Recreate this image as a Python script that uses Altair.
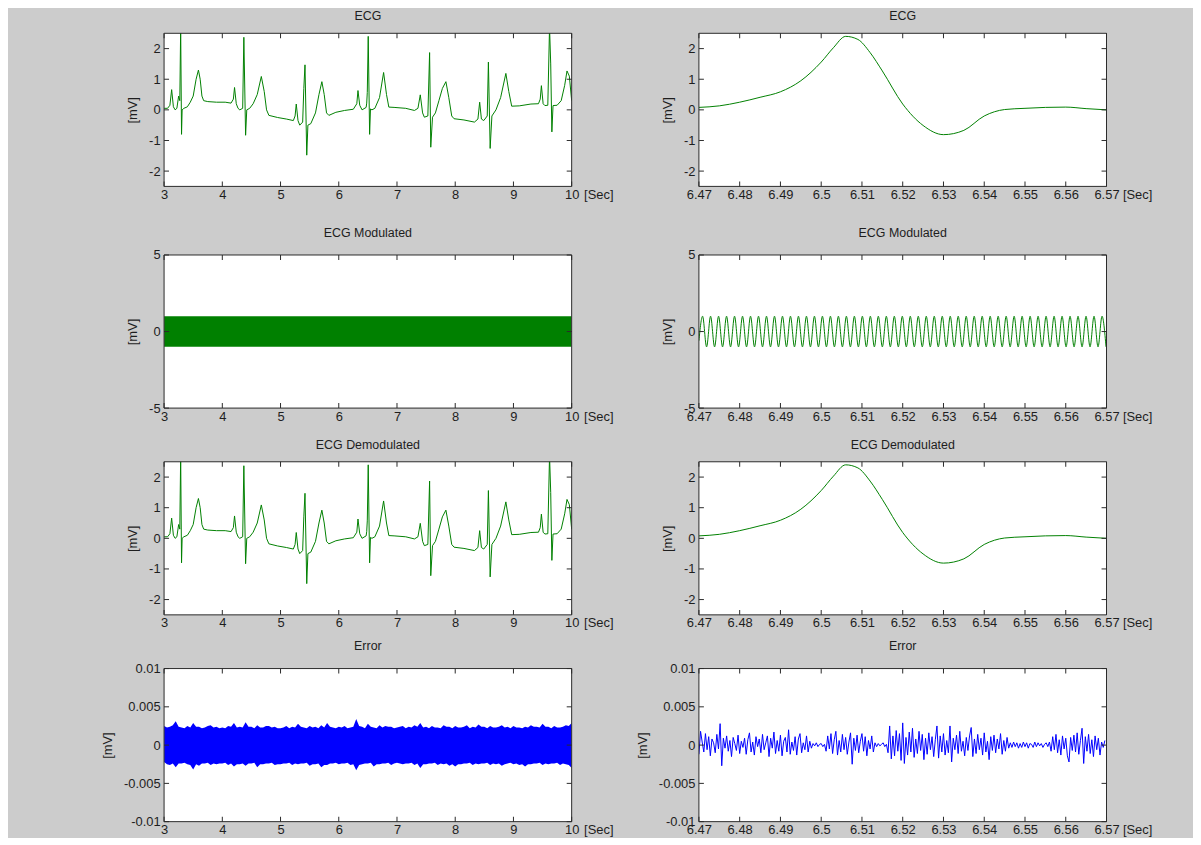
import altair as alt
import pandas as pd

FONT = "Liberation Sans, Arial, sans-serif"
TXT = "#1e1e1e"
BG = "#cccccc"
GREEN = "#008000"
BLUE = "#0000ff"
FRAME = "#2a2a2a"

# ---------------- axes ----------------
X_LEFT_DOMAIN = [3, 10]
X_LEFT_TICKS = [3, 4, 5, 6, 7, 8, 9, 10]
X_RIGHT_DOMAIN = [6.47, 6.57]
X_RIGHT_TICKS = [6.47, 6.48, 6.49, 6.5, 6.51, 6.52, 6.53, 6.54, 6.55, 6.56, 6.57]
Y_ECG_DOMAIN = [-2.5, 2.5]
Y_ECG_TICKS = [-2, -1, 0, 1, 2]
Y_MOD_DOMAIN = [-5, 5]
Y_MOD_TICKS = [-5, 0, 5]
Y_ERR_DOMAIN = [-0.01, 0.01]
Y_ERR_TICKS = [-0.01, -0.005, 0, 0.005, 0.01]

TITLES = ["ECG", "ECG", "ECG Modulated", "ECG Modulated",
          "ECG Demodulated", "ECG Demodulated", "Error", "Error"]

# ---------------- ECG, 3..10 s (mV) ----------------
ECG_L_T = [3.00, 3.06, 3.10, 3.13, 3.16, 3.19, 3.22, 3.25, 3.27, 3.285, 3.30, 3.31, 3.34,
           3.40, 3.45, 3.50, 3.55, 3.59, 3.62, 3.65, 3.68, 3.75, 3.90, 4.05, 4.15, 4.19,
           4.21, 4.24, 4.27, 4.30, 4.35, 4.37, 4.40, 4.42, 4.47, 4.53, 4.60, 4.67, 4.72,
           4.76, 4.80, 4.95, 5.10, 5.22, 5.25, 5.27, 5.30, 5.33, 5.38, 5.40, 5.42, 5.45,
           5.47, 5.52, 5.60, 5.66, 5.71, 5.75, 5.79, 5.83, 5.95, 6.10, 6.25, 6.31, 6.33,
           6.36, 6.40, 6.47, 6.48, 6.49, 6.506, 6.53, 6.545, 6.57, 6.62, 6.70, 6.77, 6.82,
           6.86, 6.95, 7.15, 7.30, 7.36, 7.40, 7.44, 7.47, 7.53, 7.56, 7.58, 7.61, 7.66,
           7.72, 7.78, 7.84, 7.89, 7.94, 7.98, 8.15, 8.33, 8.39, 8.42, 8.45, 8.49, 8.55,
           8.57, 8.60, 8.63, 8.70, 8.78, 8.87, 8.92, 8.97, 9.10, 9.30, 9.43, 9.46, 9.48,
           9.51, 9.54, 9.59, 9.62, 9.64, 9.66, 9.68, 9.75, 9.82, 9.88, 9.92, 9.96, 10.0]
ECG_L_V = [0.05, 0.05, 0.15, 0.66, 0.10, 0.00, 0.05, 0.45, 0.30, 2.70, -0.80, 0.00, 0.05,
           0.10, 0.25, 0.45, 1.00, 1.30, 1.00, 0.45, 0.30, 0.27, 0.25, 0.25, 0.22, 0.35,
           0.73, 0.20, 0.05, 0.00, 0.05, 2.37, -0.83, 0.00, 0.05, 0.20, 0.50, 1.09, 0.60,
           0.00, -0.18, -0.25, -0.30, -0.35, -0.20, 0.19, -0.35, -0.50, -0.40, 0.70, 1.47, -1.48,
           -0.50, -0.45, -0.10, 0.50, 0.92, 0.50, -0.10, -0.18, -0.08, -0.02, 0.02, 0.20, 0.63,
           0.15, 0.00, 0.08, 0.22, 0.57, 2.40, -0.80, 0.03, 0.00, 0.05, 0.40, 1.22, 0.50,
           0.09, 0.08, 0.05, -0.02, 0.05, 0.49, -0.10, -0.24, -0.20, 1.87, -1.22, -0.24, -0.10,
           0.30, 0.70, 0.92, 0.40, -0.20, -0.29, -0.33, -0.40, -0.30, 0.25, -0.30, -0.35, -0.20,
           1.56, -1.26, -0.20, 0.00, 0.40, 1.19, 0.60, 0.12, 0.13, 0.19, 0.20, 0.35, 0.79,
           0.20, 0.14, 0.15, 2.70, 1.50, -0.72, 0.14, 0.15, 0.30, 0.80, 1.27, 1.10, 0.30]

# ---------------- ECG, 6.47..6.57 s (mV) ----------------
ECG_R_T = [6.470, 6.475, 6.480, 6.485, 6.490, 6.495, 6.500, 6.503, 6.506, 6.509, 6.512,
           6.515, 6.520, 6.525, 6.530, 6.535, 6.540, 6.545, 6.550, 6.555, 6.560, 6.565, 6.570]
ECG_R_V = [0.08, 0.13, 0.25, 0.41, 0.59, 0.95, 1.56, 2.03, 2.40, 2.30, 1.87,
           1.27, 0.19, -0.51, -0.81, -0.67, -0.20, 0.01, 0.05, 0.08, 0.09, 0.04, 0.00]

# ---------------- modulated carrier ----------------
MOD_L_T = [3, 10]
MOD_L_UP = [1.0, 1.0]
MOD_L_LO = [-1.0, -1.0]

MOD_R_START = 6.47
MOD_R_FIRST = 6.4709
MOD_R_HALF = 0.00098
MOD_R_V = [-0.6,
           1, -1, 1, -1, 1, -1, 1, -1, 1, -1,
           1, -1, 1, -1, 1, -1, 1, -1, 1, -1,
           1, -1, 1, -1, 1, -1, 1, -1, 1, -1,
           1, -1, 1, -1, 1, -1, 1, -1, 1, -1,
           1, -1, 1, -1, 1, -1, 1, -1, 1, -1,
           1, -1, 1, -1, 1, -1, 1, -1, 1, -1,
           1, -1, 1, -1, 1, -1, 1, -1, 1, -1,
           1, -1, 1, -1, 1, -1, 1, -1, 1, -1,
           1, -1, 1, -1, 1, -1, 1, -1, 1, -1,
           1, -1, 1, -1, 1, -1, 1, -1, 1, -1,
           1, -1]

# ---------------- error (units of 1e-4 mV) ----------------
ERR_L_T0, ERR_L_DT = 3.0, 0.05
ERR_L_UP = [25, 23, 24, 26, 31, 24, 23, 22, 25, 23, 29, 24, 24, 22, 23, 25, 26, 23, 24, 22,
            23, 22, 25, 24, 29, 23, 24, 23, 30, 24, 24, 22, 26, 23, 23, 25, 25, 23, 24, 22,
            22, 23, 25, 22, 24, 23, 28, 24, 23, 22, 25, 23, 24, 22, 26, 23, 29, 24, 23, 22,
            24, 23, 25, 22, 23, 24, 34, 25, 24, 22, 28, 24, 23, 22, 26, 23, 25, 24, 24, 22,
            23, 24, 25, 22, 24, 23, 26, 24, 29, 23, 24, 22, 25, 23, 23, 22, 26, 24, 24, 22,
            25, 23, 23, 24, 26, 22, 24, 23, 27, 24, 24, 22, 25, 23, 23, 24, 26, 23, 24, 22,
            25, 23, 23, 22, 24, 23, 26, 24, 24, 23, 28, 24, 24, 22, 25, 23, 23, 24, 26, 25, 29]
ERR_L_LO = [-22, -25, -26, -24, -29, -24, -24, -23, -25, -26, -32, -25, -27, -24, -24, -23, -26, -24, -25, -24,
            -24, -23, -26, -24, -28, -25, -25, -24, -27, -24, -24, -23, -29, -25, -25, -24, -24, -23, -26, -25,
            -25, -24, -24, -23, -26, -24, -25, -24, -24, -23, -27, -25, -25, -24, -29, -26, -26, -24, -24, -23,
            -25, -24, -24, -23, -26, -25, -33, -26, -25, -24, -24, -23, -28, -25, -25, -24, -24, -23, -26, -24,
            -23, -24, -25, -24, -24, -23, -26, -24, -30, -25, -25, -24, -24, -23, -26, -24, -25, -24, -27, -25,
            -28, -25, -25, -24, -24, -23, -26, -24, -25, -24, -24, -23, -26, -24, -25, -24, -27, -25, -24, -23,
            -25, -24, -26, -25, -28, -25, -25, -24, -24, -23, -26, -24, -25, -24, -24, -23, -26, -24, -25, -26, -30]

ERR_R_T0, ERR_R_DT = 6.47, 0.0004
ERR_R = [-12, 18, 4, -9, 15, -6, 11, -14, 8, 3,
         -10, 14, -5, 28, -27, 9, -4, 12, -8, 6,
         -15, 10, 2, -7, 13, -11, 5, -3, 9, -12,
         7, 16, -9, 4, -13, 11, -2, 8, -10, 14,
         -6, 3, 12, -15, 9, -4, 17, -11, 6, -8,
         13, -14, 5, 10, -9, 20, -12, 4, -7, 11,
         -13, 8, 15, -10, 3, -6, 12, -9, 5, -4,
         2, -1, 3, -2, 1, 2, -2, 1, -8, 12,
         -5, 15, -11, 7, 18, -13, 6, -9, 14, -6,
         10, -12, 4, 16, -25, 9, -7, 13, -10, 5,
         15, -8, 11, -14, 6, -5, 12, -9, 3, -2,
         2, -1, 1, 3, -2, 1, -10, 25, -18, 12,
         -14, 19, -8, 15, -20, 29, -24, 10, -13, 17,
         -9, 22, -16, 8, -11, 18, -7, 14, -19, 9,
         -12, 16, -6, 11, -15, 7, 25, -17, 12, -9,
         15, -13, 6, -10, 25, -22, 9, -6, 13, -11,
         18, -8, 5, -14, 10, -7, 12, 23, -15, 8,
         -11, 14, -6, 9, -13, 16, -9, 5, -19, 11,
         -7, 13, -10, 8, -5, 15, -12, 6, -8, 10,
         -4, 3, -3, 4, -2, 3, -4, 2, -3, 4,
         -2, 3, -4, 2, 1, -3, 4, -2, 3, -1,
         2, -3, 1, 3, -2, 4, -8, 11, -6, 14,
         -10, 7, -13, 12, -5, 9, -14, -22, 10, -7,
         13, -9, 16, -12, 6, 22, -24, 11, -8, 14,
         -11, 7, -15, 12, -6, 9, -13, 4, -3, 6]

# ---------------- layout ----------------
W, H = 410, 154
EXTRA = 15


def panel(title, data_layers, xdom, xticks, ydom, yticks, extra=0, sec_gap=12):
    xs = alt.Scale(domain=xdom, nice=False, zero=False)
    ys = alt.Scale(domain=ydom, nice=False, zero=False, range=[H, 0])
    xaxis = alt.Axis(values=xticks, labelExpr="datum.value + ''", title="[Sec]",
                     titleX=W + sec_gap, titleY=2, titleAlign="left", titleBaseline="top",
                     labelPadding=2, labelFlush=False, labelOverlap=False,
                     ticks=False, domain=False, grid=False, offset=-extra)
    yaxis = alt.Axis(values=yticks, labelExpr="datum.value + ''", title="[mV]",
                     titlePadding=9, labelPadding=4, labelOverlap=False,
                     ticks=False, domain=False, grid=False)

    def X(f):
        return alt.X(f, scale=xs, axis=xaxis)

    def Y(f):
        return alt.Y(f, scale=ys, axis=yaxis)

    fdf = pd.DataFrame({"x0": [xdom[0]], "x1": [xdom[1]], "y0": [ydom[0]], "y1": [ydom[1]]})
    bg = alt.Chart(fdf).mark_rect(color="white").encode(
        x=X("x0:Q"), x2="x1:Q", y=Y("y0:Q"), y2="y1:Q")
    layers = [bg]
    for kind, df, style in data_layers:
        if kind == "line":
            layers.append(alt.Chart(df).mark_line(clip=True, strokeWidth=1, **style).encode(
                x=X("t:Q"), y=Y("v:Q")))
        else:
            layers.append(alt.Chart(df).mark_area(clip=True, **style).encode(
                x=X("t:Q"), y=Y("up:Q"), y2="lo:Q"))
    frame = alt.Chart(fdf).mark_rect(fillOpacity=0, stroke=FRAME, strokeWidth=1).encode(
        x=X("x0:Q"), x2="x1:Q", y=Y("y0:Q"), y2="y1:Q")
    layers.append(frame)
    xt = pd.DataFrame({"x": xticks, "lo": ydom[0], "hi": ydom[1]})
    yt = pd.DataFrame({"y": yticks, "lo": xdom[0], "hi": xdom[1]})
    for col, off in (("lo", -2.5), ("hi", 2.5)):
        layers.append(alt.Chart(xt).mark_tick(orient="vertical", size=5, thickness=1,
                                              color=FRAME, opacity=1, yOffset=off).encode(
            x=X("x:Q"), y=Y(f"{col}:Q")))
    for col, off in (("lo", 2.5), ("hi", -2.5)):
        layers.append(alt.Chart(yt).mark_tick(orient="horizontal", size=5, thickness=1,
                                              color=FRAME, opacity=1, xOffset=off).encode(
            y=Y("y:Q"), x=X(f"{col}:Q")))
    return alt.layer(*layers).properties(width=W, height=H + extra,
                                         title=alt.TitleParams(text=title, frame="group"))


ecg_l = pd.DataFrame({"t": ECG_L_T, "v": ECG_L_V})
ecg_r = pd.DataFrame({"t": ECG_R_T, "v": ECG_R_V})
mod_l = pd.DataFrame({"t": MOD_L_T, "up": MOD_L_UP, "lo": MOD_L_LO})
mod_r_t = [MOD_R_START] + [round(MOD_R_FIRST + MOD_R_HALF * k, 6) for k in range(len(MOD_R_V) - 1)]
mod_r = pd.DataFrame({"t": mod_r_t, "v": MOD_R_V})
err_l = pd.DataFrame({"t": [round(ERR_L_T0 + ERR_L_DT * k, 4) for k in range(len(ERR_L_UP))],
                      "up": [u * 1e-4 for u in ERR_L_UP], "lo": [l * 1e-4 for l in ERR_L_LO]})
err_r = pd.DataFrame({"t": [round(ERR_R_T0 + ERR_R_DT * k, 6) for k in range(len(ERR_R))],
                      "v": [e * 1e-4 for e in ERR_R]})

g = {"color": GREEN}
b = {"color": BLUE}
gm = dict(g, interpolate="monotone")
cells = [
    panel(TITLES[0], [("line", ecg_l, g)], X_LEFT_DOMAIN, X_LEFT_TICKS, Y_ECG_DOMAIN, Y_ECG_TICKS, EXTRA),
    panel(TITLES[1], [("line", ecg_r, gm)], X_RIGHT_DOMAIN, X_RIGHT_TICKS,
          Y_ECG_DOMAIN, Y_ECG_TICKS, EXTRA, sec_gap=16),
    panel(TITLES[2], [("area", mod_l, g)], X_LEFT_DOMAIN, X_LEFT_TICKS, Y_MOD_DOMAIN, Y_MOD_TICKS),
    panel(TITLES[3], [("line", mod_r, gm)], X_RIGHT_DOMAIN, X_RIGHT_TICKS,
          Y_MOD_DOMAIN, Y_MOD_TICKS, sec_gap=16),
    panel(TITLES[4], [("line", ecg_l, g)], X_LEFT_DOMAIN, X_LEFT_TICKS, Y_ECG_DOMAIN, Y_ECG_TICKS),
    panel(TITLES[5], [("line", ecg_r, gm)], X_RIGHT_DOMAIN, X_RIGHT_TICKS,
          Y_ECG_DOMAIN, Y_ECG_TICKS, sec_gap=16),
    panel(TITLES[6], [("area", err_l, b)], X_LEFT_DOMAIN, X_LEFT_TICKS, Y_ERR_DOMAIN, Y_ERR_TICKS),
    panel(TITLES[7], [("line", err_r, b)], X_RIGHT_DOMAIN, X_RIGHT_TICKS, Y_ERR_DOMAIN, Y_ERR_TICKS,
          sec_gap=16),
]

chart = alt.concat(*cells, columns=2, spacing={"row": 54, "column": 128},
                   bounds="flush", align="each").properties(
    background=BG, padding={"left": 93, "top": -1, "right": 40, "bottom": -2})

chart = chart.configure_view(stroke="transparent").configure_axis(
    labelFont=FONT, labelFontSize=13, labelColor=TXT,
    titleFont=FONT, titleFontSize=13, titleFontWeight="normal", titleColor=TXT
).configure_title(font=FONT, fontSize=12.5, fontWeight="normal", color=TXT,
                  anchor="middle", offset=10)

chart.save("out.html", embed_options={"renderer": "svg", "actions": False})
